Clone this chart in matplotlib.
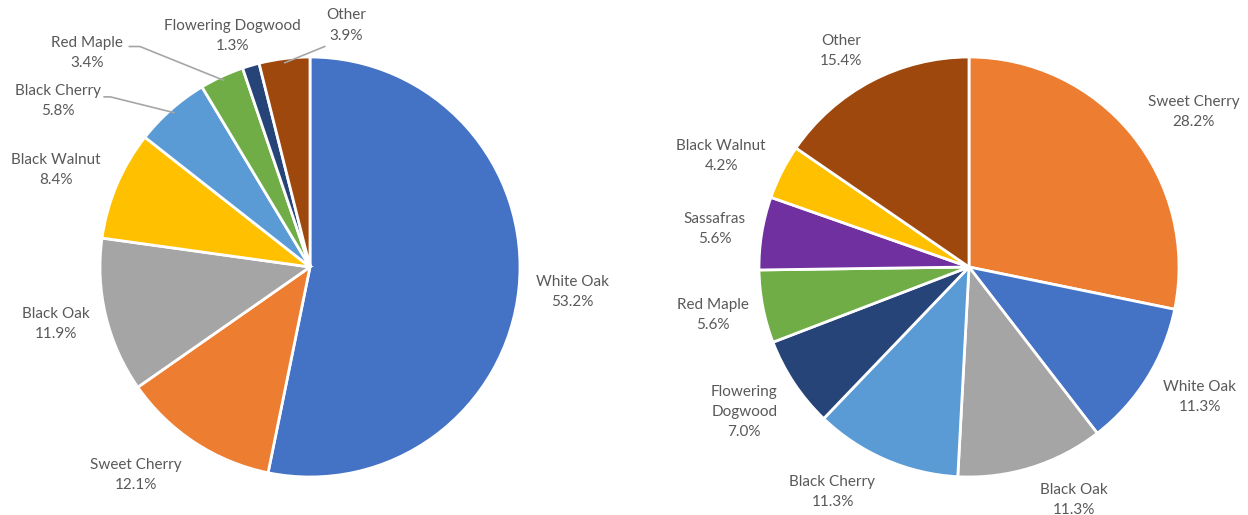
import matplotlib
matplotlib.use("Agg")
import matplotlib.pyplot as plt
import numpy as np

# data
left_names = ["White Oak", "Sweet Cherry", "Black Oak", "Black Walnut", "Black Cherry",
              "Red Maple", "Flowering Dogwood", "Other"]
left_pct = [53.2, 12.1, 11.9, 8.4, 5.8, 3.4, 1.3, 3.9]

right_names = ["Sweet Cherry", "White Oak", "Black Oak", "Black Cherry", "Flowering\nDogwood",
               "Red Maple", "Sassafras", "Black Walnut", "Other"]
right_pct = [28.2, 11.3, 11.3, 11.3, 7.0, 5.6, 5.6, 4.2, 15.4]

colors = {"White Oak": "#4472C4", "Sweet Cherry": "#ED7D31", "Black Oak": "#A5A5A5",
          "Black Walnut": "#FFC000", "Black Cherry": "#5B9BD5", "Red Maple": "#70AD47",
          "Flowering Dogwood": "#264478", "Flowering\nDogwood": "#264478",
          "Sassafras": "#7030A0", "Other": "#9E480E"}

# label placement (in pie radius units), tuned to match the layout
left_lab = [(1.25, -0.12), (-0.83, -0.99), (-1.21, -0.27), (-1.21, 0.46), (-1.20, 0.79),
            (-1.06, 1.02), (-0.37, 1.10), (0.17, 1.15)]
right_lab = [(1.07, 0.74), (1.10, -0.62), (0.50, -1.11), (-0.65, -1.07), (-1.07, -0.69),
             (-1.22, -0.23), (-1.21, 0.18), (-1.18, 0.53), (-0.61, 1.03)]

# leader lines for the small left slices: (index, text-side end point)
left_leaders = {4: [(-0.98, 0.81), (-0.95, 0.81)],
                5: [(-0.86, 1.05), (-0.81, 1.05)],
                7: [(0.07, 1.05)]}

plt.rcParams['font.family'] = ['Lato', 'DejaVu Sans']
txt_color = "#595959"

fig = plt.figure(figsize=(12.48, 5.15), dpi=100)
W, H = 1248, 515
R = 210


def draw(cx, cy, names, pct, labs, leaders=None):
    ax = fig.add_axes([(cx - R) / W, (H - cy - R) / H, 2 * R / W, 2 * R / H])
    wedges, _ = ax.pie(pct, colors=[colors[n] for n in names], startangle=90,
                       counterclock=False, radius=1.0,
                       wedgeprops=dict(edgecolor="white", linewidth=2))
    ax.set_xlim(-1, 1)
    ax.set_ylim(-1, 1)
    ax.set_aspect("equal")
    ax.axis("off")
    for i, (n, p) in enumerate(zip(names, pct)):
        x, y = labs[i]
        ax.text(x, y, f"{n}\n{p:.1f}%", ha="center", va="center", fontsize=11,
                color=txt_color, linespacing=1.55, clip_on=False)
        if leaders and i in leaders:
            w = wedges[i]
            mid = np.deg2rad((w.theta1 + w.theta2) / 2)
            pts = leaders[i] + [(0.98 * np.cos(mid), 0.98 * np.sin(mid))]
            xs, ys = zip(*pts)
            ax.plot(xs, ys, color="#A6A6A6", lw=1.2, clip_on=False)
    return ax


draw(310, 267, left_names, left_pct, left_lab, left_leaders)
draw(969, 267, right_names, right_pct, right_lab)

fig.savefig("out.png", dpi=100, facecolor="white")
